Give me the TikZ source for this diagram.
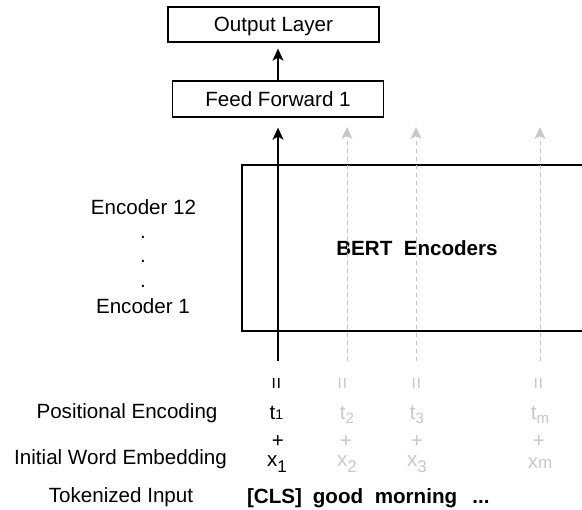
\documentclass[tikz,border=0pt]{standalone}
\usepackage{fontspec}
\setmainfont{Liberation Sans}
\usetikzlibrary{arrows.meta}
\definecolor{lightg}{RGB}{200,200,200}
\definecolor{dashg}{RGB}{196,196,196}
\tikzset{
  every node/.style={font=\fontsize{20.6}{24}\selectfont, inner sep=0pt},
  boxnode/.style={draw, line width=1.3pt, minimum width=211pt, text height=14.8pt, text depth=0pt},
  lbl/.style={anchor=base},
  greytxt/.style={anchor=base, text=lightg},
  boldtxt/.style={anchor=base, font=\fontsize{20.6}{24}\selectfont\bfseries},
  eqsign/.style={rotate=90},
  blackarrow/.style={line width=1.5pt, -{Stealth[length=12pt,width=11pt,inset=3pt]}},
  greyarrow/.style={line width=1pt, dashg, dash pattern=on 4pt off 4pt, -{Stealth[length=12pt,width=11pt,inset=3pt,color=lightg,fill=lightg]}},
}
\begin{document}
\begin{tikzpicture}[x=1pt,y=-1pt]
\useasboundingbox (0,0) rectangle (582,510);
\clip (0,0) rectangle (582,510);

% boxes
\node[boxnode, minimum height=35pt] (out) at (273.5,24.5) {Output Layer};
\node[boxnode, minimum height=36pt] (ff) at (278,99) {Feed Forward 1};
\node[draw, line width=1.3pt, minimum width=358pt, minimum height=166pt] (enc) at (421,248) {};
\node[boldtxt] (bert) at (417,256) {BERT\hspace{0.55em}Encoders};

% left labels
\node[lbl] (e12) at (143.5,215) {Encoder 12};
\node[lbl] (d1) at (143,239) {.};
\node[lbl] (d2) at (143,263) {.};
\node[lbl] (d3) at (143,288) {.};
\node[lbl] (e1) at (143,314) {Encoder 1};
\node[lbl] (pos) at (127,419) {Positional Encoding};
\node[lbl] (iwe) at (120.5,465) {Initial Word Embedding};
\node[lbl] (tok) at (121,503) {Tokenized Input};

% column 1 (black)
\coordinate (c1) at (278,361);
\node[eqsign] (eq1) at (278,383) {=};
\node[lbl] (t1) at (276.5,420) {t{\fontsize{14}{14}\selectfont 1}};
\node (p1) at (278,442) {+};
\node[lbl] (x1) at (277,467) {x\raisebox{-6pt}{\fontsize{17}{17}\selectfont 1}};

% grey columns
\coordinate (c2) at (347,361); \coordinate (c2t) at (347,127);
\coordinate (c3) at (416,361); \coordinate (c3t) at (416,127);
\coordinate (c4) at (540,361); \coordinate (c4t) at (540,127);
\node[eqsign, text=lightg] (eq2) at (344,383) {=};
\node[eqsign, text=lightg] (eq3) at (418,383) {=};
\node[eqsign, text=lightg] (eq4) at (540,383) {=};
\node[greytxt] (t2) at (347,420) {t\raisebox{-4pt}{\fontsize{15}{15}\selectfont 2}};
\node[greytxt] (t3) at (417,420) {t\raisebox{-4pt}{\fontsize{15}{15}\selectfont 3}};
\node[greytxt] (tm) at (540,420) {t\raisebox{-4pt}{\fontsize{15}{15}\selectfont m}};
\node[text=lightg] (p2) at (346,442) {+};
\node[text=lightg] (p3) at (417,442) {+};
\node[text=lightg] (p4) at (539,442) {+};
\node[greytxt] (x2) at (347,467) {x\raisebox{-6pt}{\fontsize{17}{17}\selectfont 2}};
\node[greytxt] (x3) at (417,467) {x\raisebox{-6pt}{\fontsize{17}{17}\selectfont 3}};
\node[greytxt] (xm) at (540,469) {x{\fontsize{17}{17}\selectfont m}};

% tokens
\node[boldtxt] (cls) at (274.5,503.5) {[CLS]};
\node[boldtxt] (good) at (338,503.5) {good};
\node[boldtxt] (morn) at (416,503.5) {morning};
\node[boldtxt] (dots) at (481,503.5) {...};

% connectors
\draw[greyarrow] (c2) -- (c2t);
\draw[greyarrow] (c3) -- (c3t);
\draw[greyarrow] (c4) -- (c4t);
\draw[blackarrow, shorten >=10pt] (c1) -- (ff.south);
\draw[blackarrow, shorten >=6pt] (ff.north) -- (ff.north |- out.south);
\end{tikzpicture}
\end{document}
